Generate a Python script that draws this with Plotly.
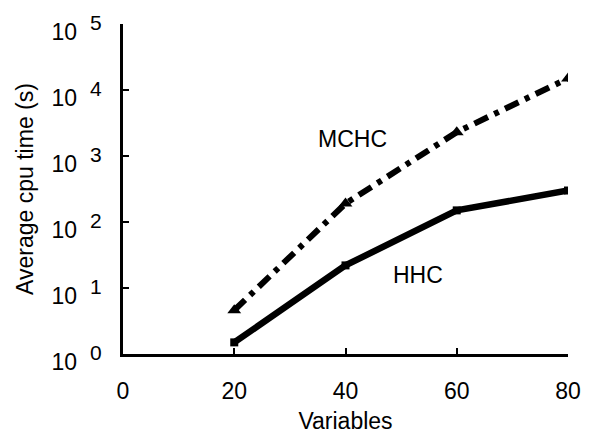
import plotly.graph_objects as go

variables = [20, 40, 60, 80]
hhc = [1.5, 22, 150, 300]
mchc = [4.6, 190, 2300, 15000]

x_ticks = [0, 20, 40, 60, 80]
y_tick_vals = [1, 10, 100, 1000, 10000, 100000]
y_tick_exps = ["0", "1", "2", "3", "4", "5"]
y_tick_text = ["10&nbsp; <sup><span style='font-size:21px'>%s</span></sup>" % e for e in y_tick_exps]

font_family = "Liberation Sans, Arial, Helvetica, sans-serif"

fig = go.Figure()
fig.add_trace(go.Scatter(
    x=variables, y=mchc, mode="lines+markers", name="MCHC",
    line=dict(color="black", width=6, dash="15px,7px,5px,7px"),
    marker=dict(symbol="triangle-up", size=12, color="black"),
))
fig.add_trace(go.Scatter(
    x=variables, y=hhc, mode="lines+markers", name="HHC",
    line=dict(color="black", width=6.5),
    marker=dict(symbol="square", size=8, color="black"),
))

fig.add_annotation(x=41.2, y=3.26, xref="x", yref="y", text="MCHC", showarrow=False,
                   font=dict(size=23, color="black", family=font_family))
fig.add_annotation(x=53, y=1.2, xref="x", yref="y", text="HHC", showarrow=False,
                   font=dict(size=23, color="black", family=font_family))

# page body has an 8px margin, so the figure is drawn 8px in and 8px down
fig.update_layout(
    width=590, height=434,
    margin=dict(l=115, r=30, t=16, b=88),
    paper_bgcolor="white", plot_bgcolor="white",
    showlegend=False,
    font=dict(family=font_family, color="black", size=23),
)
fig.update_xaxes(
    range=[0, 80], tickvals=x_ticks, ticktext=[str(v) for v in x_ticks],
    showgrid=False, zeroline=False, showline=True, linecolor="black", linewidth=2.5,
    ticks="inside", ticklen=6, tickwidth=2, tickcolor="black",
    tickfont=dict(size=23, family=font_family, color="black"),
    ticklabelstandoff=15, automargin=False,
    title=dict(text="Variables", font=dict(size=23, family=font_family, color="black"), standoff=10),
)
fig.update_yaxes(
    type="log", range=[0, 5], tickvals=y_tick_vals, ticktext=y_tick_text,
    showgrid=False, zeroline=False, showline=True, linecolor="black", linewidth=2.5,
    ticks="inside", ticklen=6, tickwidth=2, tickcolor="black",
    tickfont=dict(size=23, family=font_family, color="black"),
    ticklabelstandoff=14, ticklabelshift=8, ticklabeloverflow="allow", automargin=False,
    title=dict(text="Average cpu time (s)", font=dict(size=23, family=font_family, color="black"), standoff=12),
)

fig.write_html("out.html")
